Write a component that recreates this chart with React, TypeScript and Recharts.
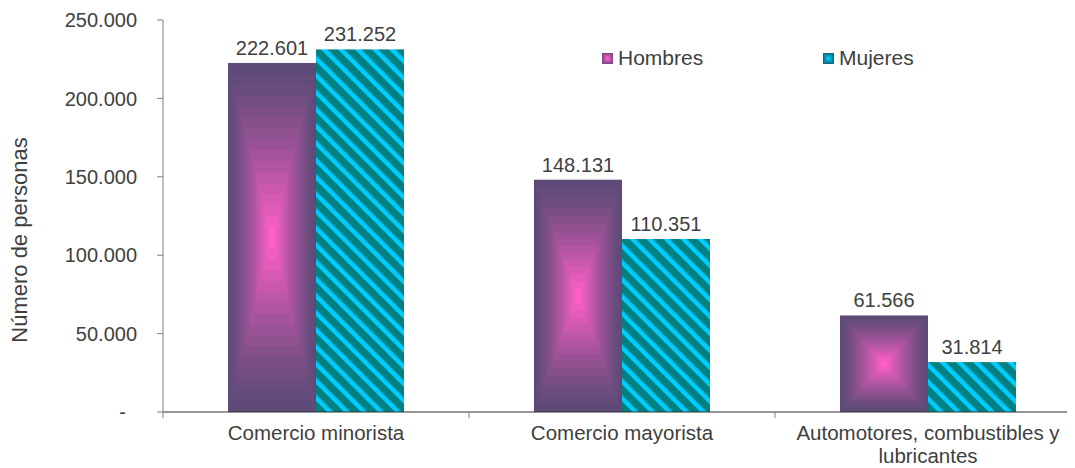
import React from 'react';
import { BarChart, Bar, XAxis, YAxis, LabelList, Legend } from 'recharts';

const categories = ['Comercio minorista', 'Comercio mayorista', 'Automotores, combustibles y\nlubricantes'];
const hombres = [222601, 148131, 61566];
const mujeres = [231252, 110351, 31814];
const yTicks = [0, 50000, 100000, 150000, 200000, 250000];
const seriesNames = ['Hombres', 'Mujeres'];

const data = categories.map((c, i) => ({ cat: c, hombres: hombres[i], mujeres: mujeres[i] }));

const FONT = '"Liberation Sans", Arial, sans-serif';
const TXT = '#404040';

const hex = (c: string) => [1, 3, 5].map((k) => parseInt(c.slice(k, k + 2), 16));
const mix = (a: string, b: string, t: number) => {
  const A = hex(a);
  const B = hex(b);
  return `rgb(${A.map((v, i) => Math.round(v + (B[i] - v) * t)).join(',')})`;
};

const fmt = (v: number) => (v === 0 ? '-\u00A0\u00A0' : v.toLocaleString('de-DE'));

const BoxGradient = ({ x, y, width, height, edge, center, n = 14, gamma = 1 }: any) => {
  const rects = [];
  for (let i = 0; i < n; i++) {
    const t = i / n;
    rects.push(
      <rect
        key={i}
        x={x + (t * width) / 2}
        y={y + (t * height) / 2}
        width={width * (1 - t)}
        height={height * (1 - t)}
        fill={mix(edge, center, Math.pow(i / (n - 1), gamma))}
      />
    );
  }
  return <g>{rects}</g>;
};

const HombresShape = (props: any) => {
  const { x, y, width, height } = props;
  if (!height || height <= 0) return null;
  return <BoxGradient x={x} y={y} width={width} height={height} edge="#5e4a78" center="#ff60c8" n={16} gamma={1.3} />;
};

const MujeresShape = (props: any) => {
  const { x, y, width, height } = props;
  if (!height || height <= 0) return null;
  return <rect x={x} y={y} width={width} height={height} fill="url(#mujStripes)" />;
};

const CatTick = (props: any) => {
  const { x, y, payload, index } = props;
  const lines = String(payload.value).split('\n');
  const half = payload.offset || 0;
  const axisY = y - 6;
  return (
    <g>
      <line x1={x - half} x2={x - half} y1={axisY} y2={axisY + 6} stroke="#808080" />
      {index === categories.length - 1 && (
        <line x1={x + half} x2={x + half} y1={axisY} y2={axisY + 6} stroke="#808080" />
      )}
      <text x={x} y={y} textAnchor="middle" fill={TXT} fontFamily={FONT} fontSize={20.5}>
        {lines.map((l, i) => (
          <tspan key={i} x={x} dy={i === 0 ? 22 : 23}>
            {l}
          </tspan>
        ))}
      </text>
    </g>
  );
};

const YLabel = (props: any) => {
  const vb = props.viewBox || {};
  const cx = (vb.x || 0) + 19;
  const cy = (vb.y || 0) + (vb.height || 0) / 2 + 24;
  return (
    <text
      x={cx}
      y={cy}
      transform={`rotate(-90 ${cx} ${cy})`}
      textAnchor="middle"
      dominantBaseline="central"
      fill={TXT}
      fontFamily={FONT}
      fontSize={22}
    >
      Número de personas
    </text>
  );
};

const renderLegend = () => (
  <div style={{ display: 'flex', fontFamily: FONT, fontSize: 21, color: TXT, lineHeight: '24px' }}>
    {seriesNames.map((n, i) => (
      <div key={n} style={{ display: 'flex', alignItems: 'center', width: 221 }}>
        <svg width={11} height={11} style={{ marginRight: 5 }}>
          {i === 0 ? (
            <BoxGradient x={0} y={0} width={11} height={11} edge="#7a4a88" center="#ff60c8" n={5} />
          ) : (
            <BoxGradient x={0} y={0} width={11} height={11} edge="#0a6a80" center="#00d0ff" n={5} />
          )}
        </svg>
        <span>{n}</span>
      </div>
    ))}
  </div>
);

export default function App() {
  return (
    <div style={{ marginLeft: -8, marginTop: -8, width: 1075, height: 468, overflow: 'hidden', position: 'relative', background: '#fff' }}>
      <svg width={0} height={0} style={{ position: 'absolute' }}>
        <defs>
          <pattern id="mujStripes" patternUnits="userSpaceOnUse" width={12} height={12} patternTransform="rotate(-45)">
            <rect x={0} y={0} width={12} height={12} fill="#008080" />
            <rect x={0} y={0} width={4.5} height={12} fill="#00ccff" />
          </pattern>
        </defs>
      </svg>
      <BarChart
        width={1090}
        height={468}
        data={data}
        margin={{ top: 20, right: 9, bottom: 0, left: 0 }}
        barCategoryGap="21%"
        barGap={0}
      >
        <XAxis
          dataKey="cat"
          height={56}
          axisLine={{ stroke: '#303030' }}
          tickLine={false}
          tickSize={6}
          tick={<CatTick />}
          tickMargin={0}
          interval={0}
        />
        <YAxis
          width={163}
          domain={[0, 250000]}
          ticks={yTicks}
          tickFormatter={fmt}
          axisLine={{ stroke: '#808080' }}
          tickLine={{ stroke: '#808080' }}
          tickSize={6}
          tickMargin={20}
          tick={{ fill: TXT, fontFamily: FONT, fontSize: 20 }}
          label={<YLabel />}
        />
        <Legend
          content={renderLegend}
          layout="horizontal"
          verticalAlign="middle"
          align="center"
          wrapperStyle={{ position: 'absolute', left: 602, top: 46, width: 460 }}
        />
        <Bar dataKey="hombres" name="Hombres" barSize={88} shape={<HombresShape />} isAnimationActive={false}>
          <LabelList dataKey="hombres" position="top" offset={8} formatter={fmt} fill={TXT} fontFamily={FONT} fontSize={20} />
        </Bar>
        <Bar dataKey="mujeres" name="Mujeres" barSize={88} shape={<MujeresShape />} isAnimationActive={false}>
          <LabelList dataKey="mujeres" position="top" offset={8} formatter={fmt} fill={TXT} fontFamily={FONT} fontSize={20} />
        </Bar>
      </BarChart>
    </div>
  );
}
